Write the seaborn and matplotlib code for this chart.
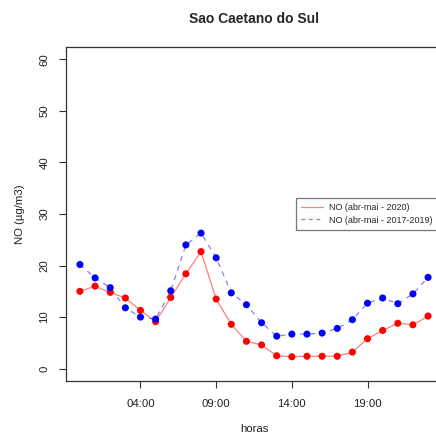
import matplotlib
matplotlib.use("Agg")
import matplotlib.pyplot as plt
import seaborn as sns
import pandas as pd

hours = list(range(24))
no_2020 = [15.0, 16.0, 14.8, 13.7, 11.3, 9.1, 13.8, 18.4, 22.7, 13.5, 8.6, 5.3,
           4.6, 2.5, 2.3, 2.4, 2.4, 2.4, 3.2, 5.8, 7.4, 8.8, 8.5, 10.2]
no_2017_2019 = [20.2, 17.6, 15.7, 11.8, 10.0, 9.6, 15.1, 24.0, 26.3, 21.5, 14.7, 12.4,
                8.9, 6.3, 6.7, 6.7, 6.9, 7.8, 9.5, 12.7, 13.7, 12.6, 14.5, 17.7]
tick_hours = [4, 9, 14, 19]
tick_labels = ["04:00", "09:00", "14:00", "19:00"]
label_2020 = "NO (abr-mai - 2020)"
label_hist = "NO (abr-mai - 2017-2019)"

df = pd.DataFrame({"hora": hours, "a2020": no_2020, "hist": no_2017_2019})

sns.set_theme(style="white")
plt.rcParams["font.family"] = ["Liberation Sans", "DejaVu Sans"]

fig = plt.figure(figsize=(4.36, 4.34), dpi=100)
ax = fig.add_axes([66/436, 1-381/434, (442-66)/436, (381-47)/434])

sns.lineplot(data=df, x="hora", y="a2020", ax=ax, color=(1, 0, 0, 0.5),
             linewidth=0.9, label=label_2020)
sns.lineplot(data=df, x="hora", y="hist", ax=ax, color=(0, 0, 1, 0.5),
             linewidth=0.9, label=label_hist, dashes=False)
ax.lines[1].set_dashes((4, 4))
sns.scatterplot(data=df, x="hora", y="a2020", ax=ax, color="#ff0000", s=26,
                edgecolor="none", zorder=3, legend=False)
sns.scatterplot(data=df, x="hora", y="hist", ax=ax, color="#0000ff", s=26,
                edgecolor="none", zorder=3, legend=False)

ax.set_xlim(-0.92, 23.92)
ax.set_ylim(-2.4, 62.4)
ax.set_xticks(tick_hours)
ax.set_xticklabels(tick_labels)
ax.set_yticks([0, 10, 20, 30, 40, 50, 60])
ax.set_yticklabels(["0", "10", "20", "30", "40", "50", "60"], rotation=90, va="center")
ax.tick_params(axis="both", which="major", direction="out", length=5, width=0.8,
               color="#333333", labelsize=8.2, labelcolor="#222222",
               left=True, bottom=True)
ax.tick_params(axis="x", pad=8)
ax.tick_params(axis="y", pad=7)
for sp in ax.spines.values():
    sp.set_color("#333333")
    sp.set_linewidth(0.9)

ax.set_xlabel("horas", fontsize=8.2, labelpad=11, color="#222222")
ax.set_ylabel("NO (\u00b5g/m3)", fontsize=8.2, labelpad=10, color="#222222")
ax.set_title("Sao Caetano do Sul", fontsize=10, fontweight="bold", pad=17)

leg = ax.legend(loc="upper left", bbox_to_anchor=(296/436, 1-198/434),
                bbox_transform=fig.transFigure, fontsize=6.5, frameon=True,
                fancybox=False, handlelength=2.4, handletextpad=0.7,
                labelspacing=0.35, borderpad=0.6, borderaxespad=0)
leg.get_frame().set_edgecolor("#555555")
leg.get_frame().set_linewidth(0.9)
leg.get_lines()[1].set_dashes((3, 3))

fig.savefig("out.png", dpi=100, facecolor="white")
